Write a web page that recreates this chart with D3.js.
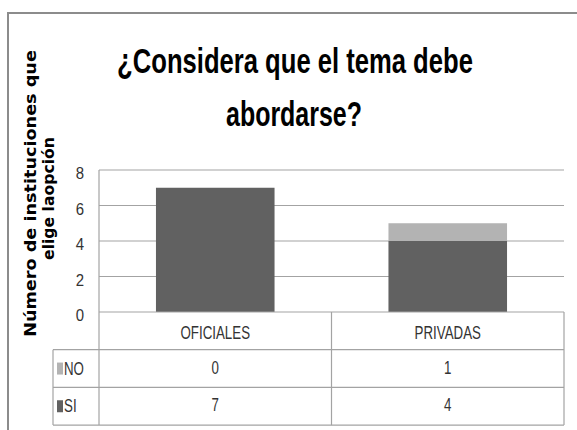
<!DOCTYPE html>
<html>
<head>
<meta charset="utf-8">
<script src="https://cdn.jsdelivr.net/npm/d3@7"></script>
<style>
  body { margin: 0; background: #fff; }
</style>
</head>
<body>
<div id="chart"></div>
<script>
const categories = ['OFICIALES', 'PRIVADAS'];
const seriesNames = ['NO', 'SI'];
const noValues = [0, 1];
const siValues = [7, 4];
const yTicks = [0, 2, 4, 6, 8];
const titleLines = ['¿Considera que el tema debe', 'abordarse?'];
const yLabelLines = ['Número de instituciones que', 'elige laopción'];

const width = 577, height = 430;
const plot = { left: 99, right: 564, top: 170, bottom: 312 };
const legendLeft = 53;
const rowH = 37.7;
const colors = { NO: '#b3b3b3', SI: '#616161' };
const sans = "'Liberation Sans', Arial, sans-serif";
const gridColor = '#a3a3a3';
const squeeze = 0.74;   // the reference text is condensed

const rows = categories.map((c, i) => ({ cat: c, NO: noValues[i], SI: siValues[i] }));
const values = { NO: noValues, SI: siValues };

const svg = d3.select('#chart')
  .append('svg')
  .attr('width', width)
  .attr('height', height);

// outer frame (cropped at right and bottom)
svg.append('rect')
  .attr('x', 8).attr('y', 13)
  .attr('width', 640).attr('height', 500)
  .attr('fill', '#fff')
  .attr('stroke', '#8c8c8c')
  .attr('stroke-width', 2);

const x = d3.scaleBand()
  .domain(categories)
  .range([plot.left, plot.right]);

const y = d3.scaleLinear()
  .domain([0, 8])
  .range([plot.bottom, plot.top]);

// gridlines
svg.append('g')
  .selectAll('line')
  .data(yTicks.filter(d => d > 0))
  .join('line')
    .attr('x1', plot.left).attr('x2', plot.right)
    .attr('y1', d => y(d)).attr('y2', d => y(d))
    .attr('stroke', gridColor)
    .attr('stroke-width', 1.2);

// y axis labels
const tickScale = 0.88;
const yAxis = svg.append('g')
  .attr('transform', `translate(${plot.left},0)`)
  .call(d3.axisLeft(y).tickValues(yTicks).tickSize(0).tickPadding(15));
yAxis.select('.domain').remove();
yAxis.selectAll('text')
  .attr('x', -15 / tickScale)
  .attr('dy', '0.5em')
  .attr('transform', `scale(${tickScale},1)`)
  .attr('font-family', sans)
  .attr('font-size', 17)
  .attr('fill', '#333');

// stacked bars
const stack = d3.stack().keys(['SI', 'NO'])(rows);
const barW = x.bandwidth() * 0.51;
svg.append('g')
  .selectAll('g')
  .data(stack)
  .join('g')
    .attr('fill', d => colors[d.key])
  .selectAll('rect')
  .data(d => d)
  .join('rect')
    .attr('x', d => x(d.data.cat) + (x.bandwidth() - barW) / 2)
    .attr('y', d => y(d[1]))
    .attr('width', barW)
    .attr('height', d => y(d[0]) - y(d[1]));

// data table
const table = svg.append('g').attr('stroke', gridColor).attr('stroke-width', 1.2);
const tableBottom = plot.bottom + rowH * 3;
table.append('line')
  .attr('x1', plot.left).attr('x2', plot.right)
  .attr('y1', plot.bottom).attr('y2', plot.bottom);
[1, 2, 3].forEach(r => {
  table.append('line')
    .attr('x1', legendLeft).attr('x2', plot.right)
    .attr('y1', plot.bottom + rowH * r).attr('y2', plot.bottom + rowH * r);
});
table.append('line')
  .attr('x1', plot.left).attr('x2', plot.left)
  .attr('y1', plot.top).attr('y2', tableBottom);
table.append('line')
  .attr('x1', legendLeft).attr('x2', legendLeft)
  .attr('y1', plot.bottom + rowH).attr('y2', tableBottom);
categories.forEach(c => {
  table.append('line')
    .attr('x1', x(c) + x.bandwidth()).attr('x2', x(c) + x.bandwidth())
    .attr('y1', plot.bottom).attr('y2', tableBottom);
});

function narrowText(g, tx, ty, txt, anchor) {
  return g.append('text')
    .attr('transform', `translate(${tx},${ty}) scale(${squeeze},1)`)
    .attr('text-anchor', anchor || 'middle')
    .attr('font-family', sans)
    .attr('font-size', 18)
    .attr('fill', '#333')
    .text(txt);
}

const cells = svg.append('g');
categories.forEach(c => {
  narrowText(cells, x(c) + x.bandwidth() / 2, plot.bottom + rowH / 2 + 8, c);
});

seriesNames.forEach((s, r) => {
  const cy = plot.bottom + rowH * (r + 1) + rowH / 2;
  svg.append('rect')
    .attr('x', legendLeft + 4).attr('y', cy - 6)
    .attr('width', 6).attr('height', 12)
    .attr('fill', colors[s]);
  narrowText(cells, legendLeft + 11, cy + 6, s, 'start');
  categories.forEach((c, i) => {
    narrowText(cells, x(c) + x.bandwidth() / 2, cy + 5, values[s][i]);
  });
});

// title: squeezed to the width it has in the reference
const titleY = [73, 126];
const titleCx = [295, 294];
const titleW = [356, 136];
svg.append('g')
  .selectAll('text')
  .data(titleLines)
  .join('text')
    .attr('text-anchor', 'middle')
    .attr('font-family', sans)
    .attr('font-weight', 'bold')
    .attr('font-size', 35)
    .attr('fill', '#000')
    .text(d => d)
    .attr('transform', function (d, i) {
      const s = titleW[i] / this.getComputedTextLength();
      return `translate(${titleCx[i]},${titleY[i]}) scale(${s},1)`;
    });

// y axis title
const yLab = [{ x: 36, cy: 193.5, len: 287 }, { x: 54, cy: 198.5, len: 123 }];
svg.append('g')
  .selectAll('text')
  .data(yLabelLines)
  .join('text')
    .attr('text-anchor', 'middle')
    .attr('font-family', 'DejaVu Sans, Verdana, sans-serif')
    .attr('font-weight', 'bold')
    .attr('font-size', 16)
    .attr('fill', '#000')
    .text(d => d)
    .attr('transform', function (d, i) {
      const s = yLab[i].len / this.getComputedTextLength();
      return `translate(${yLab[i].x},${yLab[i].cy}) rotate(-90) scale(${s},1)`;
    });
</script>
</body>
</html>
